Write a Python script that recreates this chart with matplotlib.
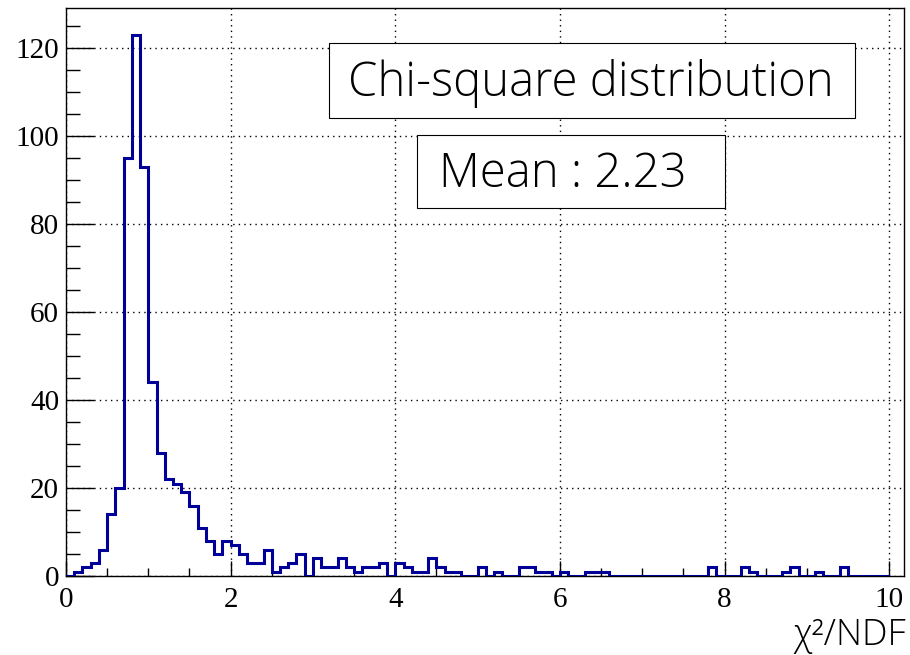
import matplotlib.pyplot as plt
import matplotlib.patches as patches
import numpy as np

# chi2/NDF histogram, 100 bins of width 0.1 between 0 and 10
bin_edges = np.round(np.arange(0, 10.05, 0.1), 1)
counts = [
    0, 1, 2, 3, 6, 14, 20, 95, 123, 93,    # 0.0 - 1.0
    44, 28, 22, 21, 19, 16, 11, 8, 5, 8,   # 1.0 - 2.0
    7, 5, 3, 3, 6, 1, 2, 3, 5, 0,          # 2.0 - 3.0
    4, 2, 2, 4, 2, 1, 2, 2, 3, 0,          # 3.0 - 4.0
    3, 2, 1, 1, 4, 2, 1, 1, 0, 0,          # 4.0 - 5.0
    2, 0, 1, 0, 0, 2, 2, 1, 1, 0,          # 5.0 - 6.0
    1, 0, 0, 1, 1, 1, 0, 0, 0, 0,          # 6.0 - 7.0
    0, 0, 0, 0, 0, 0, 0, 0, 2, 0,          # 7.0 - 8.0
    0, 0, 2, 1, 0, 0, 0, 1, 2, 0,          # 8.0 - 9.0
    0, 1, 0, 0, 2, 0, 0, 0, 0, 0,          # 9.0 - 10.0
]
x_ticks = [0, 2, 4, 6, 8, 10]
y_ticks = [0, 20, 40, 60, 80, 100, 120]
title_text = "Chi-square distribution"
mean_text = "Mean : 2.23"
x_label = "\u03c7\u00b2/NDF"

W, H = 910, 655
fig = plt.figure(figsize=(W / 100, H / 100), dpi=100)
ax = fig.add_axes([66 / W, 79 / H, 838 / W, 568 / H])

ax.stairs(counts, bin_edges, color="#000099", linewidth=2.2, zorder=3)

ax.set_xlim(0, 10.18)
ax.set_ylim(0, max(counts) * 1.05)

ax.set_xticks(x_ticks)
ax.set_xticks(np.arange(0, 10.01, 0.5), minor=True)
ax.set_yticks(y_ticks)
ax.set_yticks(np.arange(0, 126, 5), minor=True)

serif = "Liberation Serif"
ax.set_xticklabels([str(t) for t in x_ticks], fontfamily=serif, fontsize=21)
ax.set_yticklabels([str(t) for t in y_ticks], fontfamily=serif, fontsize=21)

ax.tick_params(axis="x", which="major", direction="in", length=11, width=1, pad=8)
ax.tick_params(axis="x", which="minor", direction="in", length=6, width=1)
ax.tick_params(axis="y", which="major", direction="in", length=20, width=1, pad=5)
ax.tick_params(axis="y", which="minor", direction="in", length=10, width=1)

ax.grid(True, which="major", color="black", linestyle=(0, (1, 3)), linewidth=1)
ax.set_axisbelow(True)
for s in ax.spines.values():
    s.set_linewidth(1)

# axis title in the lower right corner
fig.text(906 / W, 1 - 636 / H, x_label, ha="right", va="center",
         fontfamily="Open Sans", fontweight="light", fontsize=26)

# boxed labels
box1 = patches.Rectangle((329 / W, 1 - 118 / H), 526 / W, 75 / H,
                         transform=fig.transFigure, facecolor="white",
                         edgecolor="black", linewidth=0.8, zorder=5)
box2 = patches.Rectangle((417 / W, 1 - 208 / H), 308 / W, 73 / H,
                         transform=fig.transFigure, facecolor="white",
                         edgecolor="black", linewidth=0.8, zorder=5)
fig.add_artist(box1)
fig.add_artist(box2)
fig.text(591 / W, 1 - 83 / H, title_text, ha="center", va="center",
         fontfamily="Open Sans", fontweight="light", fontsize=34, zorder=6)
fig.text(439 / W, 1 - 175 / H, mean_text, ha="left", va="center",
         fontfamily="Open Sans", fontweight="light", fontsize=34, zorder=6)

fig.savefig("out.png", dpi=100)
